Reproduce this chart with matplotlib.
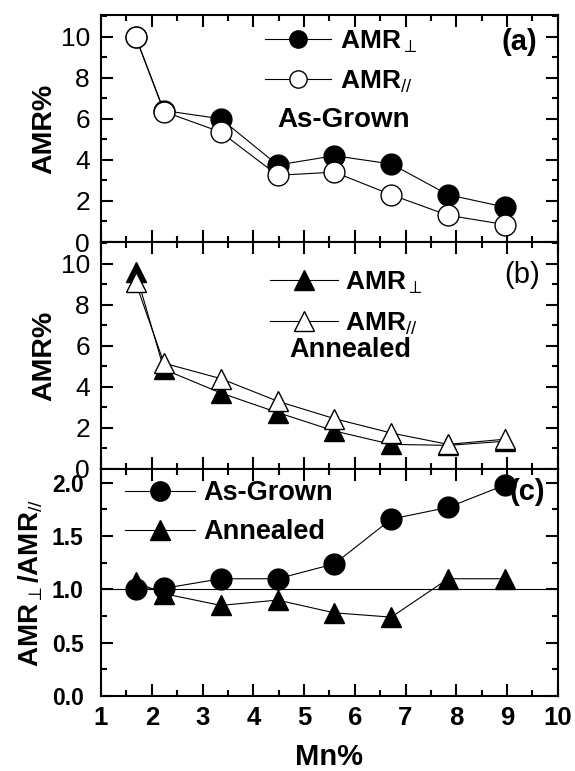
import matplotlib.pyplot as plt
from matplotlib.ticker import MultipleLocator

plt.rcParams['font.family'] = ['Liberation Sans', 'DejaVu Sans']
plt.rcParams['mathtext.fontset'] = 'custom'
plt.rcParams['mathtext.rm'] = 'Liberation Sans'
plt.rcParams['mathtext.it'] = 'Liberation Sans:italic'
plt.rcParams['mathtext.bf'] = 'Liberation Sans:bold'

# Mn concentration
mn = [1.68, 2.24, 3.36, 4.48, 5.6, 6.72, 7.84, 8.96]

# (a) as-grown AMR%
ag_perp = [10.0, 6.4, 6.0, 3.75, 4.2, 3.8, 2.3, 1.7]
ag_par = [10.0, 6.35, 5.35, 3.25, 3.4, 2.3, 1.3, 0.85]

# (b) annealed AMR%
an_perp = [9.6, 4.85, 3.7, 2.75, 1.85, 1.2, 1.15, 1.35]
an_par = [9.1, 5.15, 4.4, 3.3, 2.45, 1.75, 1.2, 1.45]

# (c) ratio perp / parallel
ratio_ag = [1.0, 1.01, 1.1, 1.1, 1.24, 1.66, 1.77, 1.98]
ratio_an = [1.07, 0.96, 0.85, 0.9, 0.78, 0.74, 1.1, 1.1]

lab_perp = r'AMR$_{\perp}$'
lab_par = r'AMR$_{//}$'

fig, axes = plt.subplots(3, 1, sharex=True, figsize=(5.75, 7.71), dpi=100)
plt.subplots_adjust(left=0.1757, right=0.970, top=0.9805, bottom=0.0973, hspace=0)
ax1, ax2, ax3 = axes

lw = 0.8
ms = 15

# panel (a)
ax1.plot(mn, ag_perp, '-o', color='black', mfc='black', ms=ms, lw=lw, label=lab_perp)
ax1.plot(mn, ag_par, '-o', color='black', mfc='white', ms=ms, lw=lw, label=lab_par)
ax1.set_ylim(0, 11.05)
ax1.yaxis.set_major_locator(MultipleLocator(2))
ax1.yaxis.set_minor_locator(MultipleLocator(1))
ax1.legend(loc='upper left', bbox_to_anchor=(0.359, 0.94), frameon=False,
           handlelength=2.5, handletextpad=0.34, labelspacing=0.52, borderpad=0,
           borderaxespad=0, markerscale=0.83, prop={'size': 19, 'weight': 'bold'})
ax1.text(0.531, 0.538, 'As-Grown', transform=ax1.transAxes, ha='center', va='center',
         fontsize=20, fontweight='bold')
ax1.text(0.917, 0.881, '(a)', transform=ax1.transAxes, ha='center', va='center',
         fontsize=21, fontweight='bold')
ax1.set_ylabel('AMR%', fontsize=20.5, fontweight='bold')

# panel (b)
ax2.plot(mn, an_perp, '-^', color='black', mfc='black', ms=ms, lw=lw, label=lab_perp)
ax2.plot(mn, an_par, '-^', color='black', mfc='white', ms=ms, lw=lw, label=lab_par)
ax2.set_ylim(0, 11.05)
ax2.yaxis.set_major_locator(MultipleLocator(2))
ax2.yaxis.set_minor_locator(MultipleLocator(1))
ax2.legend(loc='upper left', bbox_to_anchor=(0.370, 0.878), frameon=False,
           handlelength=2.58, handletextpad=0.27, labelspacing=0.55, borderpad=0,
           borderaxespad=0, markerscale=0.95, prop={'size': 19, 'weight': 'bold'})
ax2.text(0.546, 0.525, 'Annealed', transform=ax2.transAxes, ha='center', va='center',
         fontsize=19.5, fontweight='bold')
ax2.text(0.922, 0.856, '(b)', transform=ax2.transAxes, ha='center', va='center',
         fontsize=21)
ax2.set_ylabel('AMR%', fontsize=20.5, fontweight='bold')

# panel (c)
ax3.axhline(1.0, color='black', lw=lw)
ax3.plot(mn, ratio_an, '-^', color='black', mfc='black', ms=ms, lw=lw, label='Annealed')
ax3.plot(mn, ratio_ag, '-o', color='black', mfc='black', ms=ms, lw=lw, label='As-Grown')
ax3.set_ylim(0, 2.13)
ax3.yaxis.set_major_locator(MultipleLocator(0.5))
ax3.yaxis.set_minor_locator(MultipleLocator(0.25))
h, l = ax3.get_legend_handles_labels()
ax3.legend(h[::-1], l[::-1], loc='upper left', bbox_to_anchor=(0.0526, 0.9515),
           frameon=False, handlelength=2.58, handletextpad=0.3, labelspacing=0.48,
           borderpad=0, borderaxespad=0, markerscale=0.93,
           prop={'size': 19.5, 'weight': 'bold'})
ax3.text(0.934, 0.90, '(c)', transform=ax3.transAxes, ha='center', va='center',
         fontsize=21, fontweight='bold')
ax3.set_ylabel(r'AMR$_{\perp}$/AMR$_{//}$', fontsize=20, fontweight='bold')
ax3.set_xlabel('Mn%', fontsize=21, fontweight='bold', labelpad=9)
ax3.set_xlim(1, 10)
ax3.xaxis.set_major_locator(MultipleLocator(1))
ax3.xaxis.set_minor_locator(MultipleLocator(0.5))

for ax in axes:
    ax.tick_params(which='both', direction='in', top=True, right=True, width=1.5)
    ax.tick_params(which='major', length=8.4, labelsize=19, pad=8)
    ax.tick_params(which='minor', length=4)
    for sp in ax.spines.values():
        sp.set_linewidth(1.5)
    ax.yaxis.set_label_coords(-0.095, 0.5)

ax3.yaxis.set_label_coords(-0.122, 0.5)
for t in ax3.get_xticklabels() + ax3.get_yticklabels():
    t.set_fontweight('bold')
ax3.tick_params(axis='y', labelsize=16.5, pad=12.5)
ax3.tick_params(axis='x', labelsize=18.5, pad=7.5)

plt.savefig('out.png', dpi=100)
